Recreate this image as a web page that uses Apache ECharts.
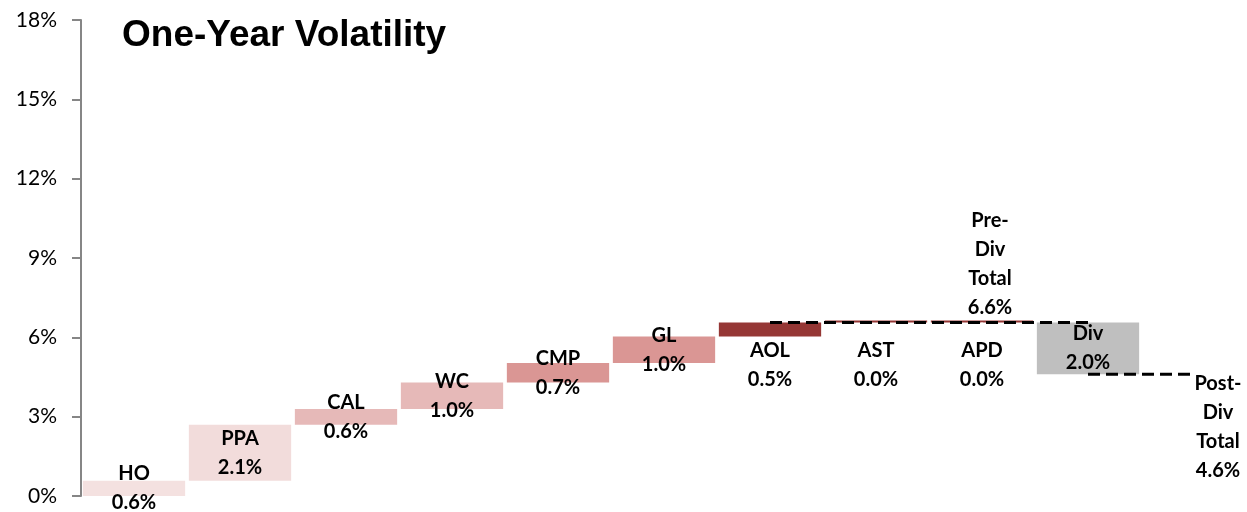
<!DOCTYPE html>
<html>
<head>
<meta charset="utf-8">
<script src="https://cdn.jsdelivr.net/npm/echarts@6/dist/echarts.min.js"></script>
<style>
  html, body { margin: 0; padding: 0; background: #ffffff; }
  #chart { width: 1247px; height: 512px; }
</style>
</head>
<body>
<div id="chart"></div>
<script>
// Contributions to one-year volatility (percentage points)
const categories = ['HO', 'PPA', 'CAL', 'WC', 'CMP', 'GL', 'AOL', 'AST', 'APD', 'Div', 'Post-Div Total'];
const contributions = [0.58, 2.11, 0.60, 1.00, 0.74, 1.00, 0.53, 0.00, 0.00, -1.96];
const totalLabels = ['Pre-Div Total', 'Post-Div Total'];
const yTicks = [0, 3, 6, 9, 12, 15, 18];

// Bar fills, one per contribution
const barColors = ['#f4e1e0', '#f2dcdb', '#e6b9b8', '#e6b9b8', '#da9694', '#da9694', '#953735', '#953735', '#953735', '#bfbfbf'];

const fmt = v => Math.abs(v).toFixed(1) + '%';

// Running totals give each floating bar its base and top
const bases = [], heights = [];
let running = 0;
contributions.forEach(v => {
  const next = running + v;
  bases.push(Math.min(running, next));
  heights.push(Math.abs(v));
  running = next;
});
const preDivTotal = contributions.slice(0, 9).reduce((a, b) => a + b, 0);
const postDivTotal = running;

const labelFont = {
  fontFamily: 'Lato, "Open Sans", sans-serif',
  fontWeight: 'bold',
  fontSize: 20,
  lineHeight: 29,
  color: '#000000',
  opacity: 1
};

const deltaData = heights.map((h, i) => {
  const item = {
    value: h,
    itemStyle: { color: barColors[i] },
    label: Object.assign({ show: true, position: 'inside', formatter: categories[i] + '\n' + fmt(contributions[i]) }, labelFont)
  };
  if (i >= 6 && i <= 8) {
    item.label.position = 'bottom';
    item.label.distance = h > 0 ? 0 : 14;
  }
  return item;
});

const preLine = categories.map((c, i) => (i >= 6 && i <= 9 ? preDivTotal : null));
const postLine = categories.map((c, i) => (i >= 9 ? postDivTotal : null));

const totalMarks = categories.map((c, i) => {
  if (i === 8) {
    return {
      value: preDivTotal,
      label: Object.assign({
        show: true, position: 'top', distance: 0, offset: [8, 0],
        formatter: totalLabels[0].replace(/-/, '-\n').replace(' ', '\n') + '\n' + fmt(preDivTotal)
      }, labelFont)
    };
  }
  if (i === 10) {
    return {
      value: postDivTotal,
      label: Object.assign({
        show: true, position: 'bottom', distance: -6, offset: [24, 0],
        formatter: totalLabels[1].replace(/-/, '-\n').replace(' ', '\n') + '\n' + fmt(postDivTotal)
      }, labelFont)
    };
  }
  return null;
});

const chart = echarts.init(document.getElementById('chart'), null, { renderer: 'canvas' });
chart.setOption({
  animation: false,
  backgroundColor: '#ffffff',
  title: {
    text: 'One-Year Volatility',
    left: 117,
    top: 12,
    textStyle: {
      fontFamily: '"Liberation Sans", Arial, sans-serif',
      fontWeight: 'bold',
      fontSize: 37,
      color: '#000000'
    }
  },
  grid: { left: 81, right: 0, top: 20, bottom: 16, containLabel: false },
  xAxis: {
    type: 'category',
    data: categories,
    axisLine: { show: false },
    axisTick: { show: false },
    axisLabel: { show: false },
    splitLine: { show: false }
  },
  yAxis: {
    type: 'value',
    min: yTicks[0],
    max: yTicks[yTicks.length - 1],
    interval: yTicks[1] - yTicks[0],
    axisLine: { show: true, lineStyle: { color: '#868686', width: 2 } },
    axisTick: { show: true, length: 9, lineStyle: { color: '#868686', width: 2 } },
    splitLine: { show: false },
    axisLabel: {
      formatter: '{value}%',
      margin: 24,
      fontFamily: 'Lato, "Open Sans", sans-serif',
      fontSize: 21,
      color: '#000000'
    }
  },
  series: [
    {
      name: 'base',
      type: 'bar',
      stack: 'wf',
      data: bases,
      barCategoryGap: '3.5%',
      itemStyle: { color: 'rgba(0,0,0,0)' },
      emphasis: { disabled: true },
      silent: true
    },
    {
      name: 'contribution',
      type: 'bar',
      stack: 'wf',
      data: deltaData,
      barCategoryGap: '3.5%',
      barMinHeight: 2,
      z: 3
    },
    {
      name: 'preDiv',
      type: 'line',
      data: preLine,
      symbol: 'none',
      connectNulls: false,
      lineStyle: { color: '#000000', width: 3, type: [12, 6] },
      z: 4
    },
    {
      name: 'postDiv',
      type: 'line',
      data: postLine,
      symbol: 'none',
      connectNulls: false,
      lineStyle: { color: '#000000', width: 3, type: [12, 6] },
      z: 4
    },
    {
      name: 'totals',
      type: 'scatter',
      data: totalMarks,
      symbolSize: 1,
      itemStyle: { color: '#ffffff', opacity: 1 },
      emphasis: { disabled: true },
      silent: true,
      z: 5
    }
  ]
});
</script>
</body>
</html>
